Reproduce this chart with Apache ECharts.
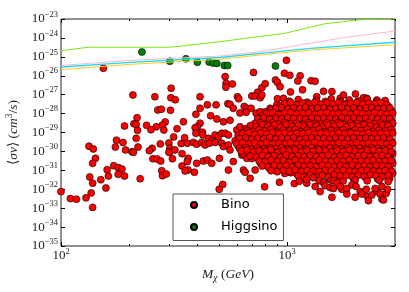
<!DOCTYPE html>
<html><head><meta charset="utf-8">
<script src="https://cdn.jsdelivr.net/npm/echarts@6/dist/echarts.min.js"></script>
<style>html,body{margin:0;padding:0;background:#fff}#c{width:409px;height:292px}</style>
</head><body><div id="c"></div>
<script>
// ---- tick values ----
const xMajorTicks = [100, 1000];
const xMinorTicks = [200, 300, 400, 500, 600, 700, 800, 900, 2000, 3000];
const yTickExponents = [-35,-34,-33,-32,-31,-30,-29,-28,-27,-26,-25,-24,-23];

// ---- Higgsino points [M (GeV), sigma v (cm^3/s)] ----
const higgsino = [[228,1.8e-25],[303,5.8e-26],[357,7.9e-26],[401,5.2e-26],[452,5.3e-26],[471,4.7e-26],[489,4.5e-26],[528,3.5e-26],[546,3.5e-26],[888,3.3e-26]];

// ---- Bino points ----
const binoLeft = [[208,9.6e-28],[260,7.8e-28],[306,6.9e-28],[320,5.4e-28],[268,1.55e-28],[278,1.7e-28],[305,1.5e-28],[217,6.1e-29],[210,2.9e-29],[215,2.7e-29],[191,2.2e-29],[239,2.4e-29],[289,3.6e-29],[281,2.5e-29],[264,2e-29],[250,1.4e-29],[285,1.36e-29],[326,1.6e-29],[218,1.3e-29],[215,4.9e-30],[315,5.8e-30],[176,3.9e-30],[188,3e-30],[275,2.5e-30],[300,2.8e-30],[340,2.6e-30],[133,1.9e-30],[139,1.35e-30],[174,1.7e-30],[219,1.7e-30],[253,1.46e-30],[246,1.1e-30],[193,1.2e-30],[206,9.6e-31],[209,9e-31],[303,1.46e-30],[303,9.6e-31],[300,9e-31],[343,7.6e-31],[142,4.3e-31],[138,2.35e-31],[255,4.1e-31],[266,4e-31],[276,3.1e-31],[311,4.1e-31],[171,1.76e-31],[160,1.08e-31],[179,1.4e-31],[186,1.17e-31],[279,9.6e-32],[134,4.5e-32],[162,5e-32],[179,6.2e-32],[191,5e-32],[224,3.6e-32],[281,5.2e-32],[292,6.4e-32],[150,3.2e-32],[138,2.1e-32],[158,1.17e-32],[100,7.5e-33],[136,6.4e-33],[110,3.2e-33],[117,3e-33],[129,3.5e-33],[138,1.1e-33],[343,1.7e-31]];

const binoUpper = [[154,2.5e-26],[307,2.2e-27],[710,1.5e-26],[532,9e-27],[537,4e-27],[536,2.5e-27],[573,3.7e-27],[412,7.8e-28],[603,7.8e-28],[611,6.1e-28],[740,1.35e-27],[773,2.35e-27],[800,3.8e-27],[698,8.5e-28],[722,8.5e-28],[993,6.5e-26],[973,1.35e-26],[1028,1.05e-26],[1142,1e-26],[1115,5.3e-27],[888,6e-27],[906,4.5e-27],[931,2.65e-27],[1276,5.5e-27],[1330,5.1e-27],[1035,1.4e-27],[1170,1.8e-27],[1449,1.5e-27],[1578,1.45e-27],[2005,1.1e-27],[2176,6.9e-28],[2250,6.4e-28],[2494,5.2e-28],[2763,1.9e-28],[1717,6.4e-28],[1775,9.6e-28],[1352,7.8e-28],[760,6.9e-28],[773,9.6e-28],[906,6.1e-28],[964,6.4e-28],[1014,4.3e-28],[979,2.3e-28]];

const binoMid = [[444,2.9e-28],[485,2.9e-28],[547,3.35e-28],[559,3.1e-28],[578,1.9e-28],[646,2.4e-28],[664,1.9e-28],[693,1.9e-28],[619,1.08e-28],[659,1.17e-28],[729,1.05e-28],[760,1.26e-28],[800,1.26e-28],[841,1.9e-28],[900,2.9e-28],[931,1.55e-28],[869,9.2e-29],[412,1.9e-28],[395,9.2e-29],[459,7.7e-29],[348,3.7e-29],[489,5.2e-29],[523,3.7e-29],[559,4.4e-29],[412,3.1e-29],[401,2e-29],[392,1.8e-29],[395,9.1e-30],[422,1.03e-29],[424,7.4e-30],[480,7.4e-30],[497,6e-30],[514,9.1e-30],[532,9.1e-30],[550,7.4e-30],[599,1.36e-29],[619,2e-29],[641,9.1e-30],[352,5.3e-30],[449,4.9e-30],[464,3.6e-30],[362,2.7e-30],[385,3e-30],[398,2.4e-30],[419,3e-30],[434,2.2e-30],[453,2.7e-30],[480,3e-30],[514,2.7e-30],[523,1.8e-30],[550,2.2e-30],[559,1.2e-30],[319,1.2e-30],[365,4.3e-31],[362,2.9e-31],[398,2.35e-31],[426,3.1e-31],[444,3.5e-31],[464,2.35e-31],[502,4.3e-31],[578,2.9e-31],[631,6.4e-31],[664,4.3e-31],[641,1.04e-31],[652,7.9e-32],[722,1.04e-31],[365,1.04e-31],[389,7.9e-32],[550,1.04e-31],[686,3.8e-32],[354,9.3e-32],[925,2.35e-32],[795,1.35e-32],[519,1.8e-32],[501,1e-32]];

const binoCoreTop = [
[1021,4.5e-28],[1120,5.5e-28],[1227,4e-28],[1345,5e-28],[1474,4.4e-28],[1567,6e-28],[1717,4.2e-28],[1882,5.3e-28],[2063,4.6e-28],[2260,5.8e-28],[2478,4.1e-28],[2715,4.9e-28],
[932,2.6e-28],[991,3.1e-28],[1053,2.2e-28],[1120,2.8e-28],[1190,3.4e-28],[1265,2.4e-28],[1345,2.9e-28],[1430,2.1e-28],[1520,3.2e-28],[1616,2.5e-28],[1717,2.7e-28],[1826,3.3e-28],[1941,2.3e-28],[2063,2.9e-28],[2193,2.5e-28],[2331,3e-28],[2478,2.2e-28],[2634,2.8e-28],[2800,2.4e-28],
[850,1.5e-28],[904,1.2e-28],[961,1.7e-28],[1021,1.3e-28],[1086,1.6e-28],[1154,1.1e-28],[1227,1.4e-28],[1304,1.8e-28],[1386,1.2e-28],[1474,1.5e-28],[1567,1.3e-28],[1665,1.7e-28],[1770,1.1e-28],[1882,1.4e-28],[2000,1.6e-28],[2126,1.2e-28],[2260,1.5e-28],[2403,1.3e-28],[2554,1.7e-28],[2715,1.2e-28],[2886,1.5e-28],
[776,8e-29],[825,6.5e-29],[877,9e-29],[932,7e-29],[991,8.5e-29],[1053,6.2e-29],[1120,9.5e-29],[1190,7.4e-29],[1265,8e-29],[1345,6.8e-29],[1430,9e-29],[1520,7.2e-29],[1616,8.4e-29],[1717,6.5e-29],[1826,9.2e-29],[1941,7.6e-29],[2063,8.2e-29],[2193,6.9e-29],[2331,9e-29],[2478,7.3e-29],[2634,8.6e-29],[2800,7e-29],
[752,4.2e-29],[800,3.6e-29],[850,4.8e-29],[904,3.9e-29],[961,4.5e-29],[1021,3.4e-29],[1086,5e-29],[1154,4e-29],[1227,3.7e-29],[1304,4.6e-29],[1386,3.8e-29],[1474,4.4e-29],[1567,3.5e-29],[1665,4.9e-29],[1770,4.1e-29],[1882,3.6e-29],[2000,4.7e-29],[2126,3.9e-29],[2260,4.3e-29],[2403,3.5e-29],[2554,4.8e-29],[2715,4e-29],[2886,4.4e-29]];

const binoCoreMid = [
[687,2.3e-29],[730,2e-29],[776,2.6e-29],[825,2.2e-29],[877,2.5e-29],[932,1.9e-29],[991,2.7e-29],[1053,2.1e-29],[1120,2.4e-29],[1190,2e-29],[1265,2.6e-29],[1345,2.3e-29],[1430,1.9e-29],[1520,2.5e-29],[1616,2.2e-29],[1717,2.7e-29],[1826,2e-29],[1941,2.4e-29],[2063,2.1e-29],[2193,2.6e-29],[2331,2.2e-29],[2478,1.9e-29],[2634,2.5e-29],[2800,2.3e-29],
[666,1.3e-29],[708,1.1e-29],[752,1.4e-29],[800,1.2e-29],[850,1.5e-29],[904,1.05e-29],[961,1.3e-29],[1021,1.2e-29],[1086,1.45e-29],[1154,1.1e-29],[1227,1.35e-29],[1304,1.25e-29],[1386,1.5e-29],[1474,1.1e-29],[1567,1.3e-29],[1665,1.2e-29],[1770,1.4e-29],[1882,1.05e-29],[2000,1.35e-29],[2126,1.25e-29],[2260,1.5e-29],[2403,1.15e-29],[2554,1.3e-29],[2715,1.2e-29],[2886,1.4e-29],
[607,6.8e-30],[646,5.9e-30],[687,7.5e-30],[730,6.3e-30],[776,7.1e-30],[825,5.6e-30],[877,7.8e-30],[932,6.5e-30],[991,6.9e-30],[1053,5.8e-30],[1120,7.4e-30],[1190,6.2e-30],[1265,7e-30],[1345,6.6e-30],[1430,5.7e-30],[1520,7.6e-30],[1616,6.4e-30],[1717,7.2e-30],[1826,6e-30],[1941,6.9e-30],[2063,7.7e-30],[2193,6.1e-30],[2331,7.3e-30],[2478,6.5e-30],[2634,5.9e-30],[2800,7e-30],
[589,3.7e-30],[626,3.2e-30],[666,4.1e-30],[708,3.4e-30],[752,3.9e-30],[800,3.1e-30],[850,4.2e-30],[904,3.5e-30],[961,3.8e-30],[1021,3.3e-30],[1086,4e-30],[1154,3.6e-30],[1227,3.2e-30],[1304,4.1e-30],[1386,3.5e-30],[1474,3.9e-30],[1567,3.3e-30],[1665,3.7e-30],[1770,4.2e-30],[1882,3.4e-30],[2000,3.8e-30],[2126,3.1e-30],[2260,4e-30],[2403,3.6e-30],[2554,3.3e-30],[2715,3.9e-30],[2886,3.5e-30],
[607,2e-30],[646,1.8e-30],[687,2.2e-30],[730,1.9e-30],[776,2.1e-30],[825,1.7e-30],[877,2.3e-30],[932,1.95e-30],[991,2.05e-30],[1053,1.75e-30],[1120,2.2e-30],[1190,1.85e-30],[1265,2.1e-30],[1345,2e-30],[1430,1.8e-30],[1520,2.25e-30],[1616,1.9e-30],[1717,2.1e-30],[1826,1.7e-30],[1941,2.2e-30],[2063,2e-30],[2193,1.85e-30],[2331,2.15e-30],[2478,1.95e-30],[2634,1.8e-30],[2800,2.1e-30]];

const binoCoreLow = [
[626,1.05e-30],[666,1.2e-30],[708,9.5e-31],[752,1.1e-30],[800,1e-30],[850,1.25e-30],[904,9e-31],[961,1.15e-30],[1021,1.05e-30],[1086,1.2e-30],[1154,9.5e-31],[1227,1.1e-30],[1304,1e-30],[1386,1.2e-30],[1474,1.05e-30],[1567,9.2e-31],[1665,1.15e-30],[1770,1e-30],[1882,1.25e-30],[2000,1.05e-30],[2126,9.5e-31],[2260,1.1e-30],[2403,1.2e-30],[2554,1e-30],[2715,1.1e-30],[2886,9.5e-31],
[687,5.7e-31],[730,5e-31],[776,6.3e-31],[825,5.3e-31],[877,6e-31],[932,4.9e-31],[991,6.5e-31],[1053,5.5e-31],[1120,5.9e-31],[1190,5.1e-31],[1265,6.2e-31],[1345,5.4e-31],[1430,5.8e-31],[1520,6.4e-31],[1616,5e-31],[1717,5.6e-31],[1826,6.1e-31],[1941,5.2e-31],[2063,5.9e-31],[2193,6.3e-31],[2331,5.4e-31],[2478,5.7e-31],[2634,6e-31],[2800,5.1e-31],
[752,3.1e-31],[800,2.8e-31],[850,3.4e-31],[904,2.9e-31],[961,3.3e-31],[1021,2.7e-31],[1086,3.5e-31],[1154,3e-31],[1227,3.2e-31],[1304,2.8e-31],[1386,3.4e-31],[1474,3.1e-31],[1567,2.9e-31],[1665,3.3e-31],[1770,3e-31],[1882,3.5e-31],[2000,2.8e-31],[2126,3.2e-31],[2260,3e-31],[2403,3.4e-31],[2554,2.9e-31],[2715,3.1e-31],[2886,3.3e-31],
[776,1.7e-31],[825,1.5e-31],[877,1.85e-31],[932,1.6e-31],[991,1.8e-31],[1053,1.45e-31],[1120,1.9e-31],[1190,1.65e-31],[1265,1.75e-31],[1345,1.55e-31],[1430,1.85e-31],[1520,1.7e-31],[1616,1.5e-31],[1717,1.8e-31],[1826,1.6e-31],[1941,1.9e-31],[2063,1.65e-31],[2193,1.75e-31],[2331,1.55e-31],[2478,1.85e-31],[2634,1.7e-31],[2800,1.6e-31],
[850,9.5e-32],[904,8.5e-32],[961,1e-31],[1021,9e-32],[1086,1.05e-31],[1154,8.8e-32],[1227,9.8e-32],[1304,9.2e-32],[1386,8.6e-32],[1474,1e-31],[1567,9.4e-32],[1665,8.9e-32],[1770,1.03e-31],[1882,9.1e-32],[2000,8.7e-32],[2126,9.6e-32],[2260,1e-31],[2403,9.3e-32],[2554,8.8e-32],[2715,9.7e-32],[2886,9e-32],
[1120,5.2e-32],[1190,4.6e-32],[1265,5.6e-32],[1345,4.9e-32],[1430,5.4e-32],[1520,4.5e-32],[1616,5.8e-32],[1717,5e-32],[1826,5.3e-32],[1941,4.7e-32],[2063,5.5e-32],[2193,4.8e-32],[2331,5.7e-32],[2478,5.1e-32],[2634,4.6e-32],[2800,5.4e-32],
[1386,2.8e-32],[1567,3e-32],[1770,2.7e-32],[2000,3.1e-32],[2260,2.8e-32],[2554,3e-32],[2800,2.6e-32]];

const binoCoreFillUpper = [
[976,3.4e-28],[1037,3.9e-28],[1103,3e-28],[1172,3.6e-28],[1246,3.2e-28],[1324,4e-28],[1407,3.1e-28],[1497,3.7e-28],[1591,3.3e-28],[1691,3.8e-28],[1797,2.9e-28],[1911,3.5e-28],[2031,3.9e-28],[2159,3.1e-28],[2295,3.6e-28],[2440,3.3e-28],[2593,3.8e-28],[2757,3e-28],
[891,1.9e-28],[946,2.1e-28],[1006,1.7e-28],[1069,2e-28],[1137,1.8e-28],[1208,2.2e-28],[1284,1.75e-28],[1366,1.95e-28],[1452,2.05e-28],[1543,1.7e-28],[1641,1.9e-28],[1743,2.15e-28],[1854,1.8e-28],[1971,2e-28],[2095,1.7e-28],[2227,1.95e-28],[2367,2.1e-28],[2516,1.8e-28],[2675,1.9e-28],[2843,2e-28],
[812,1e-28],[863,1.1e-28],[918,9e-29],[976,1.05e-28],[1037,1.15e-28],[1103,9.5e-29],[1172,1e-28],[1246,1.1e-28],[1324,9.2e-29],[1407,1.05e-28],[1497,1.12e-28],[1591,9.6e-29],[1691,1e-28],[1797,1.08e-28],[1911,9.3e-29],[2031,1.1e-28],[2159,1e-28],[2295,9.5e-29],[2440,1.12e-28],[2593,1e-28],[2757,9.4e-29],[2930,1.05e-28],
[741,5.5e-29],[788,6e-29],[838,5e-29],[891,5.8e-29],[946,5.2e-29],[1006,6.2e-29],[1069,5.4e-29],[1137,5.7e-29],[1208,5.1e-29],[1284,6e-29],[1366,5.3e-29],[1452,5.9e-29],[1543,5.5e-29],[1641,5e-29],[1743,6.1e-29],[1854,5.4e-29],[1971,5.8e-29],[2095,5.2e-29],[2227,5.6e-29],[2367,6e-29],[2516,5.1e-29],[2675,5.7e-29],[2843,5.4e-29],
[719,3e-29],[764,3.3e-29],[812,2.7e-29],[863,3.2e-29],[918,2.8e-29],[976,3.4e-29],[1037,2.9e-29],[1103,3.1e-29],[1172,2.6e-29],[1246,3.3e-29],[1324,3e-29],[1407,2.8e-29],[1497,3.2e-29],[1591,2.9e-29],[1691,3.4e-29],[1797,2.7e-29],[1911,3.1e-29],[2031,3e-29],[2159,2.8e-29],[2295,3.3e-29],[2440,2.9e-29],[2593,3.2e-29],[2757,2.7e-29],[2930,3.1e-29],
[656,1.6e-29],[698,1.8e-29],[741,1.5e-29],[788,1.7e-29],[838,1.65e-29],[891,1.85e-29],[946,1.5e-29],[1006,1.75e-29],[1069,1.6e-29],[1137,1.8e-29],[1208,1.55e-29],[1284,1.7e-29],[1366,1.65e-29],[1452,1.5e-29],[1543,1.8e-29],[1641,1.6e-29],[1743,1.75e-29],[1854,1.55e-29],[1971,1.7e-29],[2095,1.85e-29],[2227,1.6e-29],[2367,1.5e-29],[2516,1.75e-29],[2675,1.65e-29],[2843,1.8e-29]];

const binoCoreFillLower = [
[636,8.8e-30],[676,9.8e-30],[719,8e-30],[764,9.3e-30],[812,8.4e-30],[863,1e-29],[918,8.6e-30],[976,9.5e-30],[1037,8.2e-30],[1103,9.1e-30],[1172,8.7e-30],[1246,9.9e-30],[1324,8.3e-30],[1407,9.2e-30],[1497,8.9e-30],[1591,8.1e-30],[1691,9.6e-30],[1797,8.5e-30],[1911,9.4e-30],[2031,8.8e-30],[2159,8.2e-30],[2295,9.7e-30],[2440,8.6e-30],[2593,9e-30],[2757,8.4e-30],[2930,9.3e-30],
[616,4.8e-30],[656,5.3e-30],[698,4.4e-30],[741,5e-30],[788,4.6e-30],[838,5.4e-30],[891,4.5e-30],[946,5.1e-30],[1006,4.7e-30],[1069,5.2e-30],[1137,4.3e-30],[1208,4.9e-30],[1284,5.3e-30],[1366,4.6e-30],[1452,5e-30],[1543,4.4e-30],[1641,5.2e-30],[1743,4.8e-30],[1854,4.5e-30],[1971,5.1e-30],[2095,4.7e-30],[2227,5.3e-30],[2367,4.6e-30],[2516,4.9e-30],[2675,5.2e-30],[2843,4.5e-30],
[598,2.6e-30],[636,2.9e-30],[676,2.4e-30],[719,2.8e-30],[764,2.5e-30],[812,3e-30],[863,2.45e-30],[918,2.7e-30],[976,2.55e-30],[1037,2.9e-30],[1103,2.4e-30],[1172,2.75e-30],[1246,2.6e-30],[1324,2.95e-30],[1407,2.5e-30],[1497,2.7e-30],[1591,2.4e-30],[1691,2.85e-30],[1797,2.6e-30],[1911,2.5e-30],[2031,2.9e-30],[2159,2.45e-30],[2295,2.75e-30],[2440,2.6e-30],[2593,2.8e-30],[2757,2.5e-30],[2930,2.7e-30],
[616,1.45e-30],[656,1.6e-30],[698,1.3e-30],[741,1.5e-30],[788,1.35e-30],[838,1.55e-30],[891,1.4e-30],[946,1.6e-30],[1006,1.3e-30],[1069,1.45e-30],[1137,1.5e-30],[1208,1.35e-30],[1284,1.6e-30],[1366,1.4e-30],[1452,1.3e-30],[1543,1.55e-30],[1641,1.45e-30],[1743,1.35e-30],[1854,1.6e-30],[1971,1.4e-30],[2095,1.5e-30],[2227,1.3e-30],[2367,1.55e-30],[2516,1.45e-30],[2675,1.4e-30],[2843,1.5e-30],
[636,7.7e-31],[676,8.4e-31],[719,7e-31],[764,8e-31],[812,7.3e-31],[863,8.6e-31],[918,7.1e-31],[976,7.9e-31],[1037,7.5e-31],[1103,8.3e-31],[1172,7.2e-31],[1246,7.8e-31],[1324,8.5e-31],[1407,7.4e-31],[1497,8.1e-31],[1591,7e-31],[1691,7.6e-31],[1797,8.4e-31],[1911,7.3e-31],[2031,7.9e-31],[2159,8.2e-31],[2295,7.1e-31],[2440,7.7e-31],[2593,8e-31],[2757,7.4e-31],[2930,7.8e-31],
[698,4.2e-31],[741,4.6e-31],[788,3.9e-31],[838,4.4e-31],[891,4e-31],[946,4.7e-31],[1006,4.1e-31],[1069,4.5e-31],[1137,3.9e-31],[1208,4.3e-31],[1284,4.6e-31],[1366,4e-31],[1452,4.4e-31],[1543,4.2e-31],[1641,3.8e-31],[1743,4.5e-31],[1854,4.1e-31],[1971,4.6e-31],[2095,4e-31],[2227,4.3e-31],[2367,4.4e-31],[2516,3.9e-31],[2675,4.2e-31],[2843,4.5e-31],
[764,2.3e-31],[812,2.5e-31],[863,2.1e-31],[918,2.4e-31],[976,2.2e-31],[1037,2.6e-31],[1103,2.15e-31],[1172,2.45e-31],[1246,2.3e-31],[1324,2.05e-31],[1407,2.5e-31],[1497,2.25e-31],[1591,2.4e-31],[1691,2.1e-31],[1797,2.55e-31],[1911,2.3e-31],[2031,2.2e-31],[2159,2.45e-31],[2295,2.1e-31],[2440,2.35e-31],[2593,2.5e-31],[2757,2.2e-31],[2930,2.4e-31],
[838,1.25e-31],[891,1.35e-31],[946,1.15e-31],[1006,1.3e-31],[1069,1.2e-31],[1137,1.4e-31],[1208,1.15e-31],[1284,1.3e-31],[1366,1.25e-31],[1452,1.1e-31],[1543,1.35e-31],[1641,1.2e-31],[1743,1.3e-31],[1854,1.15e-31],[1971,1.4e-31],[2095,1.25e-31],[2227,1.2e-31],[2367,1.35e-31],[2516,1.15e-31],[2675,1.3e-31],[2843,1.25e-31],
[976,6.9e-32],[1037,7.5e-32],[1103,6.4e-32],[1172,7.2e-32],[1246,6.6e-32],[1324,7.7e-32],[1407,6.5e-32],[1497,7.1e-32],[1591,6.8e-32],[1691,7.4e-32],[1797,6.3e-32],[1911,7e-32],[2031,7.6e-32],[2159,6.7e-32],[2295,7.2e-32],[2440,6.5e-32],[2593,7.3e-32],[2757,6.8e-32],[2930,7e-32],
[1208,3.7e-32],[1366,4e-32],[1543,3.5e-32],[1743,3.9e-32],[1971,3.6e-32],[2227,4.1e-32],[2516,3.5e-32],[2843,3.8e-32]];

const binoFringe = [[1076,2e-32],[1132,2.65e-32],[1221,2.1e-32],[1307,4.1e-32],[1400,7.5e-33],[1449,2.2e-32],[1473,1.55e-32],[1578,3.8e-33],[1550,1.22e-32],[1614,2.9e-32],[1660,2.1e-32],[1746,1e-32],[1837,5.6e-33],[1933,1.7e-32],[2019,1.4e-32],[1999,3.8e-33],[2105,7.5e-33],[2142,5.6e-33],[2240,1e-32],[2266,4.1e-33],[2290,2.5e-33],[2371,5e-33],[2497,7.5e-33],[2581,5.6e-33],[2626,3e-33],[2742,6.1e-33],[2780,1e-32],[1331,1.4e-32],[1603,1.1e-32],[1717,1.4e-32],[1837,1.1e-32],[2668,2.7e-33],[2449,1.1e-32],[2626,1.4e-32],[1221,3.4e-32]];

// ---- limit curves ----
const greenCurve  = [[100,2.1e-25],[132,3.2e-25],[303,3.2e-25],[505,6.3e-25],[841,1.4e-24],[980,1.76e-24],[1442,5.4e-24],[2042,8.85e-24],[2500,1e-23],[3000,1e-23]];
const pinkCurve   = [[100,3.5e-26],[202,6.5e-26],[505,1.1e-25],[760,1.86e-25],[1264,5.2e-25],[1770,1.03e-24],[3000,2.3e-24]];
const cyanCurve   = [[100,2.9e-26],[202,5.1e-26],[505,9.2e-26],[760,1.53e-25],[1264,2.8e-25],[3000,5.9e-25]];
const yellowCurve = [[100,2.1e-26],[202,4e-26],[505,7.4e-26],[760,1.25e-25],[1264,2.3e-25],[3000,4.4e-25]];

const bino = [].concat(binoLeft, binoUpper, binoMid, binoCoreTop, binoCoreFillUpper, binoCoreMid, binoCoreFillLower, binoCoreLow, binoFringe);

const X_MIN = 100, X_MAX = 3000, Y_MIN_EXP = -35, Y_MAX_EXP = -23;
const serif = "'Liberation Serif','DejaVu Serif',serif";
const tickRich = {
  b: {fontSize: 13, fontFamily: serif, color: '#222', lineHeight: 18},
  s: {fontSize: 8.5, fontFamily: serif, color: '#222', lineHeight: 10, verticalAlign: 'top'}
};
function expLabel(e) {
  e = Math.round(e);
  return '{b|10}{s|' + (e < 0 ? '\u2212' + (-e) : e) + '}';
}
const nameRich = {
  r: {fontSize: 13.5, fontFamily: serif, color: '#222', lineHeight: 18},
  i: {fontSize: 13.5, fontFamily: serif, fontStyle: 'italic', color: '#222', lineHeight: 18},
  sub: {fontSize: 9.5, fontFamily: serif, fontStyle: 'italic', color: '#222', lineHeight: 9, verticalAlign: 'bottom'},
  sup: {fontSize: 9.5, fontFamily: serif, color: '#222', lineHeight: 9, verticalAlign: 'top'}
};

// data axes (log scale, used by the series)
const xData = {type: 'log', min: X_MIN, max: X_MAX, show: false, gridIndex: 0};
const yData = {type: 'log', min: Math.pow(10, Y_MIN_EXP), max: Math.pow(10, Y_MAX_EXP), show: false, gridIndex: 0};

// tick/label axes in decades (same mapping as the log axes)
const xMajorExp = xMajorTicks.map(Math.log10);
const xMinorExp = xMinorTicks.map(Math.log10);
function xTickAx(pos, ticks, len, labels) {
  return {
    type: 'value', min: Math.log10(X_MIN), max: Math.log10(X_MAX), position: pos, gridIndex: 0,
    axisLine: {show: false}, splitLine: {show: false},
    axisTick: {show: true, inside: true, length: len, customValues: ticks, lineStyle: {color: '#000', width: 1}},
    axisLabel: labels ? {show: true, customValues: ticks, formatter: v => expLabel(v), rich: tickRich, margin: 1} : {show: false}
  };
}
function yTickAx(pos, labels) {
  return {
    type: 'value', min: Y_MIN_EXP, max: Y_MAX_EXP, interval: 1, position: pos, gridIndex: 0,
    axisLine: {show: false}, splitLine: {show: false},
    axisTick: {show: true, inside: true, length: 4, customValues: yTickExponents, lineStyle: {color: '#000', width: 1}},
    axisLabel: labels ? {show: true, customValues: yTickExponents, formatter: v => expLabel(v), rich: tickRich, margin: 3} : {show: false}
  };
}

const xMain = xTickAx('bottom', xMajorExp, 4, true);
xMain.name = '{i|M}{sub|\u03c7}{r| (}{i|GeV}{r|)}';
xMain.nameLocation = 'middle';
xMain.nameGap = 15;
xMain.nameTextStyle = {rich: nameRich};
const yMain = yTickAx('left', true);
yMain.name = '{r|\u27e8}{i|\u03c3v}{r|\u27e9 (}{i|cm}{sup|3}{r|/}{i|s}{r|)}';
yMain.nameLocation = 'middle';
yMain.nameGap = 33;
yMain.nameTextStyle = {rich: nameRich};

const chart = echarts.init(document.getElementById('c'), null, {renderer: 'canvas'});
chart.setOption({
  animation: false,
  backgroundColor: '#fff',
  grid: {left: 61, right: 14, top: 19, bottom: 46, containLabel: false, outerBoundsMode: 'none',
         show: true, borderColor: '#222', borderWidth: 1, backgroundColor: 'transparent'},
  xAxis: [xData, xMain, xTickAx('bottom', xMinorExp, 2, false), xTickAx('top', xMajorExp, 4, false), xTickAx('top', xMinorExp, 2, false)],
  yAxis: [yData, yMain, yTickAx('right', false)],
  legend: {
    orient: 'vertical', left: 173, top: 194, icon: 'circle', itemWidth: 6, itemHeight: 6, itemGap: 9,
    padding: [4.5, 6, 7, 17], backgroundColor: '#fff', borderColor: '#555', borderWidth: 1, borderRadius: 0,
    textStyle: {fontSize: 13, fontFamily: "'DejaVu Sans',sans-serif", color: '#000', padding: [0, 0, 0, 19]},
    data: ['Bino', 'Higgsino'], selectedMode: false
  },
  series: [
    {name: 'Bino', type: 'scatter', xAxisIndex: 0, yAxisIndex: 0, data: bino, symbol: 'circle', symbolSize: 7,
     itemStyle: {color: '#ff0000', borderColor: '#000', borderWidth: 0.6, opacity: 1}, emphasis: {disabled: true}, z: 2},
    {name: 'Higgsino', type: 'scatter', xAxisIndex: 0, yAxisIndex: 0, data: higgsino, symbol: 'circle', symbolSize: 7,
     itemStyle: {color: '#007f00', borderColor: '#000', borderWidth: 0.6, opacity: 1}, emphasis: {disabled: true}, z: 2},
    {name: 'lineGreen', type: 'line', xAxisIndex: 0, yAxisIndex: 0, data: greenCurve, showSymbol: false, symbol: 'none', clip: true, lineStyle: {color: '#7fe31a', width: 1}, z: 3, silent: true},
    {name: 'linePink', type: 'line', xAxisIndex: 0, yAxisIndex: 0, data: pinkCurve, showSymbol: false, symbol: 'none', clip: true, lineStyle: {color: '#ffb8c6', width: 1}, z: 3, silent: true},
    {name: 'lineCyan', type: 'line', xAxisIndex: 0, yAxisIndex: 0, data: cyanCurve, showSymbol: false, symbol: 'none', clip: true, lineStyle: {color: '#22d8f0', width: 1.3}, z: 3, silent: true},
    {name: 'lineYellow', type: 'line', xAxisIndex: 0, yAxisIndex: 0, data: yellowCurve, showSymbol: false, symbol: 'none', clip: true, lineStyle: {color: '#ffcc22', width: 1}, z: 3, silent: true}
  ]
});
</script>
</body></html>
